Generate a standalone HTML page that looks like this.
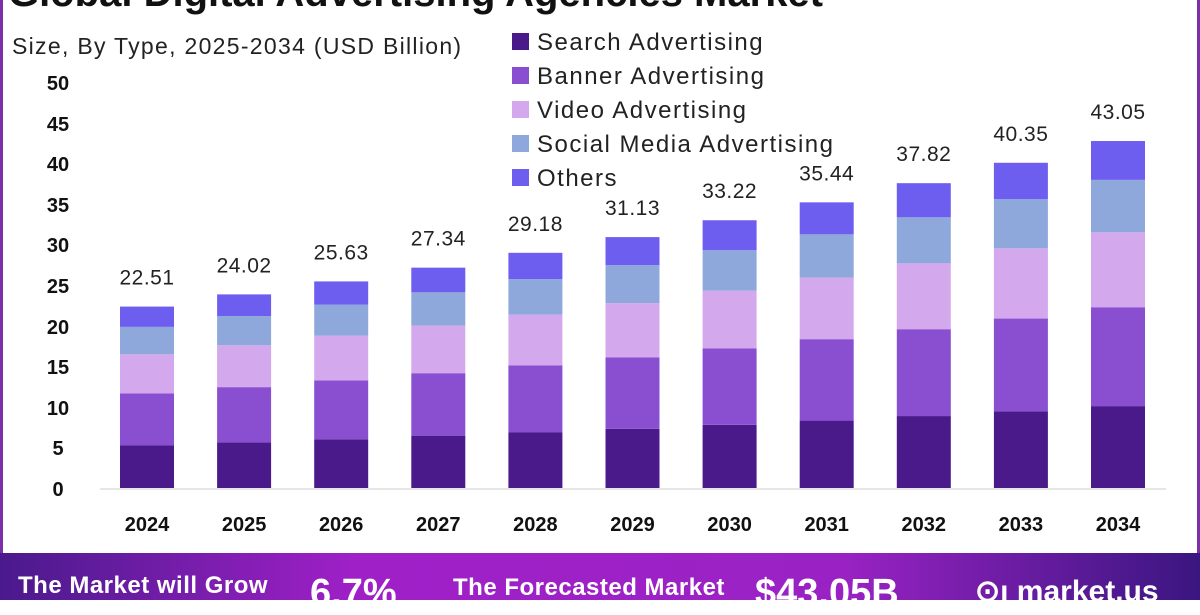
<!DOCTYPE html>
<html><head><meta charset="utf-8"><style>
body{margin:0;width:1200px;height:600px;overflow:hidden;background:#fff;font-family:"Liberation Sans",sans-serif;}
.wrap{position:relative;width:1200px;height:600px;}
</style></head><body><div class="wrap">
<svg width="1200" height="600" xmlns="http://www.w3.org/2000/svg" font-family="Liberation Sans, sans-serif">
<defs><linearGradient id="bg" x1="0" x2="1"><stop offset="0" stop-color="#4a1a8c"/><stop offset="0.3" stop-color="#a020c8"/><stop offset="0.7" stop-color="#9a22c4"/><stop offset="1" stop-color="#3a1680"/></linearGradient></defs>
<rect x="0" y="0" width="3" height="556" fill="#7b2fa8"/>
<rect x="1197" y="0" width="3" height="556" fill="#7b2fa8"/>
<rect x="0" y="553" width="1200" height="47" fill="url(#bg)"/>
<text x="8" y="6" font-size="40" font-weight="bold" fill="#111">Global Digital Advertising Agencies Market</text>
<text x="12" y="54" font-size="23" fill="#222" letter-spacing="1.3">Size, By Type, 2025-2034 (USD Billion)</text>
<g font-size="24" fill="#222" letter-spacing="1.5">
<rect x="512" y="33" width="17" height="17" fill="#4b1a8a"/><text x="537" y="50">Search Advertising</text>
<rect x="512" y="67" width="17" height="17" fill="#8a4fd0"/><text x="537" y="84">Banner Advertising</text>
<rect x="512" y="101" width="17" height="17" fill="#d4a8ec"/><text x="537" y="118">Video Advertising</text>
<rect x="512" y="135" width="17" height="17" fill="#8fa8dc"/><text x="537" y="152">Social Media Advertising</text>
<rect x="512" y="169" width="17" height="17" fill="#6e5ef0"/><text x="537" y="186">Others</text>
</g>
<g font-size="20" font-weight="bold" fill="#111" text-anchor="middle">
<text x="58" y="90">50</text><text x="58" y="131">45</text><text x="58" y="171">40</text><text x="58" y="212">35</text><text x="58" y="252">30</text><text x="58" y="293">25</text><text x="58" y="334">20</text><text x="58" y="374">15</text><text x="58" y="415">10</text><text x="58" y="455">5</text><text x="58" y="496">0</text>
</g>
<line x1="100" y1="489" x2="1166" y2="489" stroke="#ddd" stroke-width="1.5"/>
<g id="bars"></g>
</svg>
<script>
var totals=[22.51,24.02,25.63,27.34,29.18,31.13,33.22,35.44,37.82,40.35,43.05];
var fr=[0.236,0.521,0.737,0.888,1];
var cols=["#4b1a8a","#8a4fd0","#d4a8ec","#8fa8dc","#6e5ef0"];
var g=document.getElementById('bars'),s='';
for(var i=0;i<11;i++){var cx=147+i*97.1,prev=0;
for(var k=0;k<5;k++){var v=totals[i]*fr[k];var y1=488-v*8.06,y0=488-prev*8.06;
s+='<rect x="'+(cx-27)+'" y="'+y1+'" width="54" height="'+(y0-y1)+'" fill="'+cols[k]+'"/>';prev=v;}
s+='<text x="'+cx+'" y="'+(488-totals[i]*8.06-22)+'" font-size="21" fill="#222" text-anchor="middle" letter-spacing="0.5">'+totals[i].toFixed(2)+'</text>';
s+='<text x="'+cx+'" y="531" font-size="20" font-weight="bold" fill="#111" text-anchor="middle">'+(2024+i)+'</text>';}
g.innerHTML=s;
</script>
<div style="position:absolute;left:18px;top:572px;color:#fff;font-weight:bold;font-size:24px;letter-spacing:0.5px;">The Market will Grow</div>
<div style="position:absolute;left:310px;top:572px;color:#fff;font-weight:bold;font-size:38px;">6.7%</div>
<div style="position:absolute;left:453px;top:574px;color:#fff;font-weight:bold;font-size:24px;letter-spacing:0.5px;">The Forecasted Market</div>
<div style="position:absolute;left:755px;top:572px;color:#fff;font-weight:bold;font-size:38px;">$43.05B</div>
<div style="position:absolute;left:975px;top:574px;color:#fff;font-weight:bold;font-size:30px;">⊙ı market.us</div>
</div></body></html>
